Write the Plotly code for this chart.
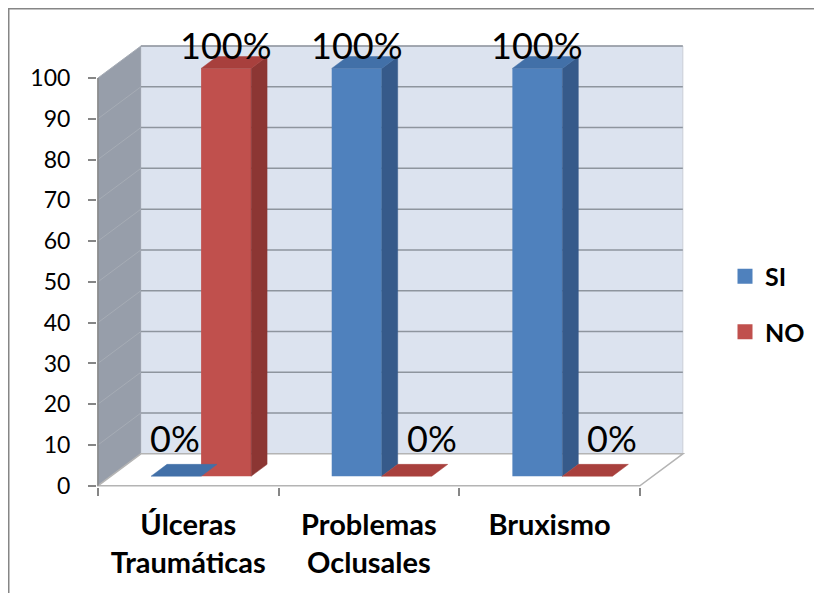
import plotly.graph_objects as go

# ---------------- data ----------------
categories = ["Úlceras<br>Traumáticas", "Problemas<br>Oclusales", "Bruxismo"]
series_names = ["SI", "NO"]
si_values = [0, 100, 100]
no_values = [100, 0, 0]
y_tick_values = [0, 10, 20, 30, 40, 50, 60, 70, 80, 90, 100]

# ---------------- style ----------------
FONT = "Lato"
front_colors = {"SI": "#4F81BD", "NO": "#C0504D"}
side_colors = {"SI": "#365A8A", "NO": "#8C3633"}
top_colors = {"SI": "#4270A8", "NO": "#A8403D"}

DX = 0.238   # depth of the 3D box in x units
DY = 7.84    # depth of the 3D box in y units
D0, D1 = 0.30, 0.67   # bar front / back depth fraction
BAR_W = 0.277

# page body has an 8px margin; layout is expressed in svg pixels
FIG_W, FIG_H = 806, 585
PL, PT, PW, PH = 89, 36, 588, 443

series_values = {"SI": si_values, "NO": no_values}
xpos = list(range(len(categories)))
x_lo, x_hi = -0.5, len(categories) - 0.5

fig = go.Figure()

# bars (front faces)
for k, name in enumerate(series_names):
    off = -BAR_W + k * BAR_W + D0 * DX
    fig.add_trace(go.Bar(
        x=xpos, y=series_values[name], base=D0 * DY, width=BAR_W, offset=off,
        marker=dict(color=front_colors[name], line=dict(width=0)),
        showlegend=False, hoverinfo="skip"))

# side + top faces
ddx = (D1 - D0) * DX
ddy = (D1 - D0) * DY
for k, name in enumerate(series_names):
    off = -BAR_W + k * BAR_W + D0 * DX
    sx, sy, tx, ty = [], [], [], []
    for i, v in zip(xpos, series_values[name]):
        xl = i + off
        xr = xl + BAR_W
        y0 = D0 * DY
        if v > 0:
            sx += [xr, xr + ddx, xr + ddx, xr, xr, None]
            sy += [y0, y0 + ddy, y0 + v + ddy, y0 + v, y0, None]
        tx += [xl, xr, xr + ddx, xl + ddx, xl, None]
        ty += [y0 + v, y0 + v, y0 + v + ddy, y0 + v + ddy, y0 + v, None]
    if sx:
        fig.add_trace(go.Scatter(x=sx, y=sy, mode="lines", fill="toself",
                                 fillcolor=side_colors[name],
                                 line=dict(color=side_colors[name], width=0.5),
                                 showlegend=False, hoverinfo="skip"))
    fig.add_trace(go.Scatter(x=tx, y=ty, mode="lines", fill="toself",
                             fillcolor=top_colors[name],
                             line=dict(color=top_colors[name], width=0.5),
                             showlegend=False, hoverinfo="skip"))

# legend entries
for name in series_names:
    fig.add_trace(go.Scatter(x=[None], y=[None], mode="markers", name=name,
                             legendgroup=name,
                             marker=dict(symbol="square", size=15, color=front_colors[name])))

# data labels
for k, name in enumerate(series_names):
    off = -BAR_W + k * BAR_W + D0 * DX
    for i, v in zip(xpos, series_values[name]):
        xc = i + off + BAR_W / 2
        fig.add_annotation(x=xc, y=v + D0 * DY, text=f"{v}%", showarrow=False,
                           xanchor="center", yanchor="middle",
                           xshift=(25 if (v == 0 and k == 1) else (-1 if v == 0 else 0)),
                           yshift=(23 if v > 0 else 38),
                           font=dict(family=FONT, size=36, color="#000000"))

# walls / floor as background shapes
shapes = []
wall_l = x_lo + DX
wall_r = x_hi + DX
top_v = y_tick_values[-1]
# back wall
shapes.append(dict(type="rect", xref="x", yref="y", layer="below",
                   x0=wall_l, x1=wall_r, y0=DY, y1=top_v + DY,
                   fillcolor="#DCE3EF", line=dict(color="#C9CED6", width=1)))
# left side wall
shapes.append(dict(type="path", xref="x", yref="y", layer="below",
                   path=f"M {x_lo},0 L {wall_l},{DY} L {wall_l},{top_v + DY} L {x_lo},{top_v} Z",
                   fillcolor="#979EAA", line=dict(width=0)))
# side wall grid lines
for v in y_tick_values[1:]:
    shapes.append(dict(type="line", xref="x", yref="y", layer="below",
                       x0=x_lo, x1=wall_l, y0=v, y1=v + DY,
                       line=dict(color="#A6ACB5", width=1)))
# back wall grid lines
for v in y_tick_values[1:]:
    shapes.append(dict(type="line", xref="x", yref="y", layer="below",
                       x0=wall_l, x1=wall_r, y0=v + DY, y1=v + DY,
                       line=dict(color="#8E959E", width=1.5)))
# floor
shapes.append(dict(type="path", xref="x", yref="y", layer="below",
                   path=f"M {x_lo},0 L {x_hi},0 L {wall_r},{DY} L {wall_l},{DY} Z",
                   fillcolor="#FFFFFF", line=dict(color="#B4B4B4", width=1.5)))
# y axis line
shapes.append(dict(type="line", xref="x", yref="y", layer="above",
                   x0=x_lo, x1=x_lo, y0=0, y1=top_v,
                   line=dict(color="#868686", width=1.5)))
# outer chart border
shapes.append(dict(type="rect", xref="paper", yref="paper", layer="above",
                   x0=(0.75 - PL) / PW, x1=(FIG_W + 30 - PL) / PW,
                   y0=(PT + PH - FIG_H - 30) / PH, y1=(PT + PH - 0.75) / PH,
                   line=dict(color="#868686", width=1.5), fillcolor="rgba(0,0,0,0)"))

xr = [x_lo - 0.005, x_hi + DX + 0.012]
fig.update_layout(
    width=FIG_W, height=FIG_H,
    margin=dict(l=PL, r=FIG_W - PL - PW, t=PT, b=FIG_H - PT - PH, autoexpand=False),
    paper_bgcolor="white", plot_bgcolor="white",
    barmode="overlay",
    shapes=shapes,
    font=dict(family=FONT, color="#000000"),
    xaxis=dict(range=xr, tickmode="array", tickvals=xpos, ticktext=categories,
               ticks="", showgrid=False, zeroline=False, showline=False,
               tickfont=dict(family=FONT, size=29, color="#000000", weight="bold"),
               ticklabelstandoff=18, automargin=False),
    xaxis2=dict(range=xr, overlaying="x", side="bottom", anchor="y",
                tickmode="array",
                tickvals=[x_lo + i for i in range(len(categories) + 1)],
                showticklabels=False, ticks="outside", ticklen=8,
                tickcolor="#868686", tickwidth=1.5,
                showgrid=False, zeroline=False, showline=False),
    yaxis=dict(range=[-0.3, top_v + DY + 0.5], tickmode="array",
               tickvals=y_tick_values, ticks="outside", ticklen=8,
               tickcolor="#868686", tickwidth=1.5,
               showgrid=False, zeroline=False, showline=False,
               tickfont=dict(family=FONT, size=23, color="#000000"),
               ticklabelstandoff=13, automargin=False),
    legend=dict(x=(725 - 97) / 588, xanchor="left", y=(487 - 304) / 443,
                yanchor="middle", tracegroupgap=20,
                font=dict(family=FONT, size=25, color="#000000", weight="bold"),
                bgcolor="rgba(0,0,0,0)"),
    showlegend=True,
)
# dummy trace to activate xaxis2
fig.add_trace(go.Scatter(x=[None], y=[None], xaxis="x2", yaxis="y",
                         showlegend=False, hoverinfo="skip"))

fig.write_html("out.html")
